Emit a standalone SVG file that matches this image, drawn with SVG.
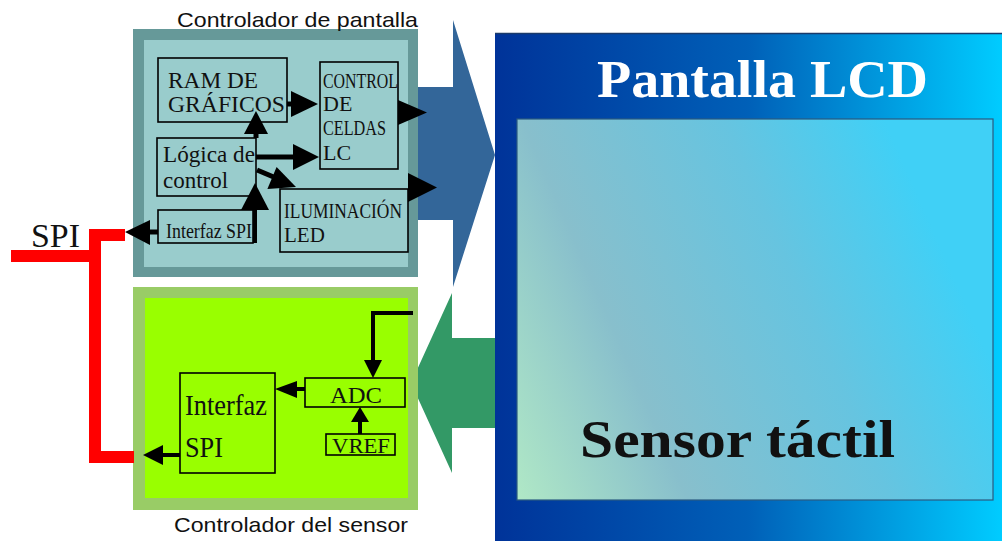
<svg xmlns="http://www.w3.org/2000/svg" width="1002" height="541" viewBox="0 0 1002 541">
<defs>
<linearGradient id="lcdG" x1="0" y1="0" x2="1" y2="0">
<stop offset="0" stop-color="#003399"/>
<stop offset="0.5" stop-color="#0060b8"/>
<stop offset="1" stop-color="#00ccff"/>
</linearGradient>
<linearGradient id="sensG" x1="0" y1="1" x2="1" y2="0.65">
<stop offset="0" stop-color="#b0e8c6"/>
<stop offset="0.32" stop-color="#88bfcc"/>
<stop offset="0.7" stop-color="#66c4e0"/>
<stop offset="1" stop-color="#40d0f6"/>
</linearGradient>
<style>
.box{fill:none;stroke:#000;stroke-width:1.6}
.ser{font-family:"Liberation Serif","DejaVu Serif",serif;fill:#111}
.sans{font-family:"Liberation Sans",Arial,sans-serif;fill:#111;font-size:21px}
.ln{stroke:#000;stroke-width:5;fill:none}
.ln2{stroke:#000;stroke-width:4;fill:none}
.hd{fill:#000}
</style>
</defs>
<rect width="1002" height="541" fill="#fff"/>

<g id="lcd">
<rect x="495" y="33" width="507" height="508" fill="url(#lcdG)"/>
<line x1="495" y1="33.5" x2="1002" y2="33.5" stroke="#1a3a6a" stroke-width="1.5"/>
<text x="597" y="97" class="ser" font-size="52" font-weight="bold" style="fill:#fff" textLength="331" lengthAdjust="spacingAndGlyphs">Pantalla LCD</text>
</g>
<g id="sensor">
<rect x="517" y="119" width="476" height="381" fill="url(#sensG)" stroke="#2a5a80" stroke-width="1.2"/>
<text x="580" y="457" class="ser" font-size="52" font-weight="bold" textLength="315" lengthAdjust="spacingAndGlyphs">Sensor táctil</text>
</g>

<g id="arrow-display">
<polygon points="400,87 453,87 453,20 495,155 453,287 453,220 400,220" fill="#336699"/>
</g>
<g id="arrow-sensor">
<polygon points="495,338 452,338 452,293 411,383 452,473 452,428 495,428" fill="#339966"/>
</g>

<g id="controlador-pantalla">
<rect x="133" y="29" width="285" height="248" fill="#669999"/>
<rect x="144" y="40" width="264" height="227" fill="#99cccc"/>
<text x="177" y="27" class="sans" textLength="241" lengthAdjust="spacingAndGlyphs">Controlador de pantalla</text>
</g>
<g id="ram">
<rect class="box" x="158" y="58" width="129" height="64"/>
<text class="ser" x="168" y="88" font-size="23" textLength="90" lengthAdjust="spacingAndGlyphs">RAM DE</text>
<text class="ser" x="168" y="112" font-size="23" textLength="117" lengthAdjust="spacingAndGlyphs">GRÁFICOS</text>
</g>
<g id="control-celdas">
<rect class="box" x="320" y="62" width="78" height="107"/>
<text class="ser" x="323" y="88" font-size="22" textLength="75" lengthAdjust="spacingAndGlyphs">CONTROL</text>
<text class="ser" x="323" y="111" font-size="22">DE</text>
<text class="ser" x="323" y="135" font-size="22" textLength="63" lengthAdjust="spacingAndGlyphs">CELDAS</text>
<text class="ser" x="323" y="160" font-size="22">LC</text>
</g>
<g id="logica">
<rect class="box" x="157" y="138" width="99" height="58"/>
<text class="ser" x="163" y="162" font-size="23" textLength="92" lengthAdjust="spacingAndGlyphs">Lógica de</text>
<text class="ser" x="163" y="188" font-size="23">control</text>
</g>
<g id="interfaz-spi-pantalla">
<rect class="box" x="158" y="210" width="95" height="33"/>
<text class="ser" x="166" y="238" font-size="21" textLength="86" lengthAdjust="spacingAndGlyphs">Interfaz SPI</text>
</g>
<g id="iluminacion">
<rect class="box" x="280" y="189" width="128" height="63"/>
<text class="ser" x="284" y="218" font-size="21" textLength="118" lengthAdjust="spacingAndGlyphs">ILUMINACIÓN</text>
<text class="ser" x="284" y="242" font-size="21">LED</text>
</g>

<g id="controlador-sensor">
<rect x="133" y="287" width="285" height="223" fill="#99cc66"/>
<rect x="145" y="298" width="263" height="200" fill="#99ff00"/>
<text x="174" y="532" class="sans" textLength="234" lengthAdjust="spacingAndGlyphs">Controlador del sensor</text>
</g>
<g id="interfaz-spi-sensor">
<rect class="box" x="180" y="373" width="95" height="100"/>
<text class="ser" x="185" y="415" font-size="30" textLength="82" lengthAdjust="spacingAndGlyphs">Interfaz</text>
<text class="ser" x="185" y="457" font-size="30" textLength="38" lengthAdjust="spacingAndGlyphs">SPI</text>
</g>
<g id="adc">
<rect class="box" x="305" y="378" width="100" height="29"/>
<text class="ser" x="330" y="403" font-size="24" textLength="52" lengthAdjust="spacingAndGlyphs">ADC</text>
</g>
<g id="vref">
<rect class="box" x="326" y="434" width="69" height="21"/>
<text class="ser" x="332" y="453" font-size="22" textLength="58" lengthAdjust="spacingAndGlyphs">VREF</text>
</g>

<g id="spi-bus">
<path d="M125,235 H95 V457 H134" fill="none" stroke="#ff0000" stroke-width="12"/>
<path d="M11,256 H95" fill="none" stroke="#ff0000" stroke-width="12"/>
<text class="ser" x="31" y="247" font-size="33" textLength="49" lengthAdjust="spacingAndGlyphs">SPI</text>
</g>

<g id="connectors">
<line class="ln" x1="287" y1="104" x2="293" y2="104"/>
<polygon class="hd" points="291,91 318,104 291,117"/>
<polygon class="hd" points="398,100 427,112.5 398,125"/>
<line class="ln" x1="256" y1="138" x2="256" y2="130"/>
<polygon class="hd" points="244,134 256,111 268,134"/>
<line class="ln" x1="256" y1="157" x2="295" y2="157"/>
<polygon class="hd" points="293,144 319,157 293,170"/>
<line class="ln" x1="257" y1="170" x2="276" y2="178"/>
<polygon class="hd" points="276.6,167 296,187 267.4,189"/>
<polygon class="hd" points="408,173 437,187.5 408,202"/>
<line class="ln2" x1="255" y1="243" x2="255" y2="208"/>
<polygon class="hd" points="241,210 255,183 269,210"/>
<line class="ln" x1="158" y1="232" x2="148" y2="232"/>
<polygon class="hd" points="150,220 125,232 150,245"/>
<polyline class="ln2" points="413,313 373,313 373,362"/>
<polygon class="hd" points="364,360 373,378 382,360"/>
<line class="ln2" x1="360" y1="434" x2="360" y2="420"/>
<polygon class="hd" points="351,422 360,407 369,422"/>
<line class="ln2" x1="305" y1="389" x2="295" y2="389"/>
<polygon class="hd" points="297,381 275,389 297,398"/>
<line class="ln2" x1="180" y1="455" x2="161" y2="455"/>
<polygon class="hd" points="163,445 143,455 163,465"/>
</g>
</svg>
